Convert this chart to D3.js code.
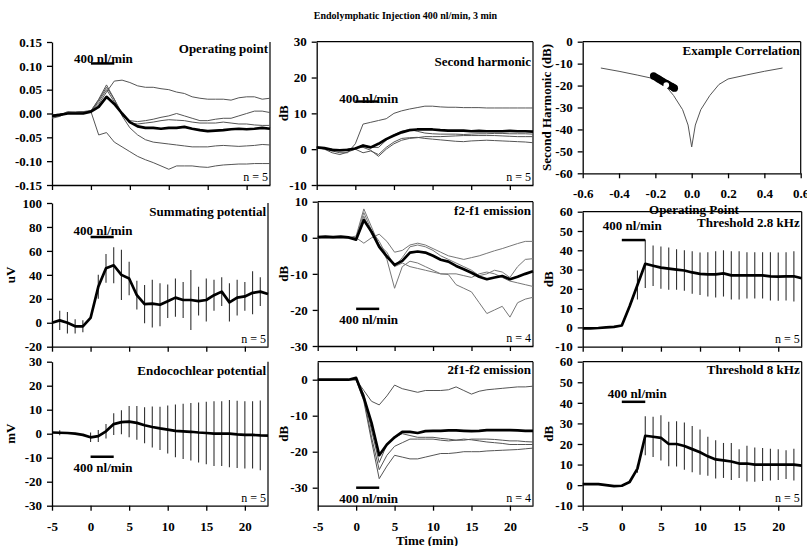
<!DOCTYPE html>
<html>
<head>
<meta charset="utf-8">
<script src="https://cdn.jsdelivr.net/npm/d3@7"></script>
<style>
    body { margin: 0; background: #fff; }
    svg { font-family: "Liberation Serif", "Times New Roman", serif; }
    .tick text { font-family: "Liberation Serif", serif; font-weight: bold; font-size: 13px; fill: #000; }
    .lbl { font-weight: bold; font-size: 13px; }
    .nlab { font-size: 12px; }
</style>
</head>
<body>
<svg width="807" height="546"></svg>
<script>
// minutes relative to start of injection
const time = [-5, -4, -3, -2, -1, 0, 1, 2, 3, 4, 5, 6, 7, 8, 9, 10, 11, 12, 13, 14, 15, 16, 17, 18, 19, 20, 21, 22, 23]

// operating point (mean + 5 animals)
const opMean = [-0.005, -0.003, 0, 0, 0, 0.004, 0.014, 0.035, 0.02, 0, -0.018, -0.027, -0.03, -0.03, -0.032, -0.03, -0.03, -0.028, -0.032, -0.035, -0.037, -0.036, -0.035, -0.033, -0.032, -0.033, -0.032, -0.03, -0.032]
const opA = [-0.008, -0.004, 0.004, 0.003, 0.004, 0.005, 0.02, 0.045, 0.068, 0.07, 0.065, 0.058, 0.055, 0.055, 0.052, 0.05, 0.045, 0.042, 0.035, 0.032, 0.03, 0.03, 0.03, 0.028, 0.033, 0.035, 0.035, 0.03, 0.032]
const opB = [-0.01, -0.006, 0.002, 0.003, 0.004, 0.004, -0.045, -0.04, -0.06, -0.07, -0.08, -0.09, -0.097, -0.103, -0.11, -0.117, -0.11, -0.11, -0.11, -0.112, -0.113, -0.11, -0.108, -0.107, -0.106, -0.106, -0.105, -0.105, -0.105]
const opC = [-0.005, -0.002, 0, 0.002, 0.003, 0.005, 0.03, 0.06, 0.03, -0.005, -0.03, -0.045, -0.055, -0.06, -0.062, -0.064, -0.066, -0.068, -0.07, -0.07, -0.07, -0.068, -0.067, -0.068, -0.069, -0.068, -0.067, -0.065, -0.066]
const opD = [-0.003, -0.001, 0.001, 0.002, 0.004, 0.006, 0.028, 0.055, 0.03, 0, -0.015, -0.017, -0.015, -0.012, -0.008, -0.005, 0, -0.005, -0.01, -0.015, -0.015, -0.012, -0.01, -0.01, -0.005, 0, 0.005, 0.005, 0.002]
const opE = [-0.004, -0.002, 0.001, 0.001, 0.002, 0.004, 0.025, 0.05, 0.025, -0.002, -0.02, -0.022, -0.02, -0.018, -0.015, -0.013, -0.014, -0.015, -0.018, -0.02, -0.02, -0.02, -0.018, -0.02, -0.022, -0.022, -0.024, -0.025, -0.025]

// second harmonic (dB)
const shMean = [0.5, 0.3, -0.2, -0.3, -0.2, 0.2, 1, 0.5, 1.5, 2.8, 3.8, 4.7, 5.3, 5.5, 5.5, 5.5, 5.3, 5.2, 5.2, 5.2, 5, 5.1, 5, 5, 5, 5.1, 5, 5, 4.9]
const sh1 = [0.3, 0.2, -0.5, -1, -1, 1.5, 7, 7.5, 8, 8.5, 10, 10.7, 11.2, 11.6, 12, 12, 11.8, 11.7, 11.7, 11.6, 11.6, 11.6, 11.5, 11.5, 11.5, 11.5, 11.5, 11.5, 11.5]
const sh2 = [0.5, 0, -1, -1.5, -0.8, 0, -1, -0.5, -1.5, 0.5, 2, 3, 3.2, 3.3, 3, 2.8, 2.6, 2.4, 2.2, 2.1, 2.3, 2.4, 2.5, 2.4, 2.3, 2.2, 2.1, 2, 1.8]
const sh3 = [0.5, 0.3, -0.3, -0.5, -0.3, 0.3, 0.5, -0.3, -2, 0, 1.5, 2.5, 3, 3.2, 3.5, 3.5, 3.5, 3.6, 3.7, 3.8, 3.8, 3.8, 3.8, 3.8, 3.7, 3.6, 3.5, 3.5, 3.5]
const sh4 = [0.5, 0.3, 0, -0.2, 0, 0.2, 1.2, 0.5, 0.5, 2.5, 4, 5, 5.5, 5, 4.5, 4.3, 4.2, 4.2, 4.2, 4.1, 4.2, 4.3, 4.3, 4.4, 4.4, 4.3, 4.3, 4.3, 4.2]

// example correlation: second harmonic vs operating point
const corrX = [-0.5, -0.4, -0.3, -0.2, -0.15, -0.1, -0.05, -0.02, 0, 0.02, 0.05, 0.1, 0.15, 0.2, 0.3, 0.4, 0.5]
const corrY = [-12, -13.5, -15.2, -17, -19.5, -24.5, -31, -38, -48, -38, -31, -24.5, -19.5, -17, -15.2, -13.5, -12]
const dotsX = [-0.21, -0.2, -0.19, -0.18, -0.17, -0.16, -0.15, -0.14, -0.13, -0.12, -0.11, -0.1, -0.095]
const dotsY = [-15.6, -16.1, -16.6, -17.1, -17.6, -18.1, -18.6, -19.0, -19.5, -20.0, -20.4, -20.9, -21.2]
const whiteDot = [-0.14, -19.8]

// summating potential (uV), mean and sd
const spMean = [0, 2, 0, -3, -3, 4, 30, 45.5, 48, 40, 37, 23, 15.5, 16, 15, 18, 21, 19, 19, 18, 19, 23, 26, 17, 21, 22, 25, 26, 24]
const spErr = [0, 8, 9, 6, 5, 0, 10, 12, 15, 21, 14, 12, 16, 20, 18, 14, 16, 15, 25, 12, 18, 13, 12, 16, 15, 12, 18, 12, 0]

// f2-f1 emission (dB)
const dpMean = [0.2, 0.3, 0.2, 0.3, 0.1, -0.5, 4.9, 1.7, -2.5, -5.2, -7.5, -6.4, -4.1, -3.8, -4.1, -5, -6.1, -6.6, -7.8, -8.7, -9.7, -10.8, -11.5, -11, -10.6, -11.5, -10.8, -10, -9.3]
const dp1 = [0, 0, 0, 0, 0, 0.5, 8, 3, -2, -6, -14, -8, -6.5, -7, -8, -9, -10, -10.2, -13, -14, -15, -18, -21, -20, -19, -22, -18, -17, -16.5]
const dp2 = [0, 0, 0, 0, 0, 0, -1.5, 0, 1, -1, -4, -3.5, -2, -1.5, -2, -3, -4, -5, -5.5, -6, -5.5, -5, -4.3, -3.6, -3, -2.3, -1.6, -1, -1]
const dp3 = [0, 0, 0, 0, 0, 0, 6, 1, -2, -4, -8, -5.5, -2.5, -2, -2.5, -3.5, -5, -6, -7, -8, -9, -10.5, -10, -9, -9.5, -11, -8, -6, -5.8]
const dp4 = [0, 0, 0, 0, 0, 0, 7, 2, -1, -5, -8, -7, -8, -8.5, -9, -9.5, -10, -10, -10, -10.5, -11, -10, -9.5, -10, -11, -12, -12.5, -13, -13.5]

// threshold 2.8 kHz (dB)
const t28Mean = [-0.5, -0.5, -0.3, 0, 0.3, 1, 11, 22, 33, 32, 31, 30.5, 30, 29.5, 28.5, 27.8, 27.5, 27.5, 28, 27, 27, 27, 27, 27, 26.5, 26.3, 26.5, 26.5, 25.5]
const t28Err = [0, 0, 0, 0, 0, 0, 0, 7.5, 12.5, 10.5, 11, 11, 10.5, 10.5, 11, 11, 11.5, 12, 12, 12.5, 12.5, 12, 12, 12, 12.5, 12.5, 12.5, 13, 0]

// endocochlear potential (mV)
const epMean = [0.5, 0.4, 0.3, 0, -0.5, -1.5, -1, 1, 4, 4.8, 5, 4.5, 3.5, 2.8, 2.2, 1.7, 1.2, 1, 0.8, 0.5, 0.3, 0, 0, 0, -0.3, -0.5, -0.5, -0.7, -0.8]
const epErr = [0, 1, 0, 0, 0, 2, 2.5, 3, 4.5, 5, 6.5, 7, 7.5, 8.5, 9, 10, 11, 11.5, 12, 12.5, 13, 13.5, 13.5, 14, 14, 14, 14, 14.5, 0]

// 2f1-f2 emission (dB)
const cdMean = [0, 0, 0, 0, 0, 0.5, -5, -12, -21, -18, -16, -14.5, -14.5, -14.8, -14.3, -14.2, -14.2, -14.1, -14.1, -14.2, -14.3, -14.2, -14, -14, -14, -14, -14.1, -14.2, -14.2]
const cd1 = [0, 0, 0, 0, 0, 0, -3, -6, -7, -4.5, -1.5, -2.5, -3, -3.5, -3, -3, -3, -2.8, -2, -3, -4, -3.2, -2.8, -2.6, -2.4, -2.2, -2, -2, -1.8]
const cd2 = [0, 0, 0, 0, 0, 0, -4, -14, -23, -18, -16, -15, -15.5, -16, -16, -16, -16.3, -16.5, -16.8, -16.8, -16.5, -16.5, -16.5, -16.6, -16.8, -17, -17, -17.2, -17.3]
const cd3 = [0, 0, 0, 0, 0, 0, -5, -16, -25, -21, -18.5, -17.5, -16.5, -16.5, -16.5, -16.5, -16.8, -17, -16.8, -16.5, -16.7, -17, -17.3, -17.5, -17.7, -18, -18, -18, -18]
const cd4 = [0, 0, 0, 0, 0, 0, -6, -17, -27.5, -24, -21, -21.5, -22, -22, -21.5, -21, -20.5, -20.5, -20.3, -20, -20, -20, -19.8, -19.7, -19.6, -19.5, -19.4, -19.2, -19]

// threshold 8 kHz (dB)
const t8Mean = [0.5, 0.5, 0.5, 0, -0.5, -0.3, 1.5, 8, 24, 23.5, 23, 20, 20, 19, 17.5, 16, 14, 12.5, 12, 11.5, 10.5, 10.5, 10, 10, 10, 10, 10, 10, 9.5]
const t8Err = [0, 0, 0, 0, 0, 0, 0, 2, 9.5, 9.8, 11, 10.8, 11, 11.5, 11.3, 11, 9.5, 9.3, 8.5, 9, 7, 8.7, 8.3, 8, 7.7, 7.5, 7, 7.7, 0]

const timeTicks = [-5, 0, 5, 10, 15, 20]

var int = d => String(d)

var panels = [
    { x0: 52, x1: 270, y0: 42, y1: 185, ydom: [-0.15, 0.15], yticks: [-0.15, -0.1, -0.05, 0, 0.05, 0.1, 0.15], yfmt: d => d.toFixed(2),
      top: false, title: "Operating point", titleDy: 10.5, n: "n = 5", bar: 0.105, barDx: -17, barDy: 0, mean: opMean, thin: [opA, opB, opC, opD, opE] },
    { x0: 316.7, x1: 533, y0: 41.7, y1: 185, ydom: [-10, 30], yticks: [-10, 0, 10, 20, 30], yfmt: int, ylabel: "dB", ylx: 283,
      top: true, title: "Second harmonic", titleDy: 24, n: "n = 5", bar: 13.3, barDx: -16, barDy: 1, mean: shMean, thin: [sh1, sh2, sh3, sh4] },
    { x0: 52, x1: 268, y0: 203, y1: 346.7, ydom: [-20, 100], yticks: [-20, 0, 20, 40, 60, 80, 100], yfmt: int, ylabel: "uV", ylx: 10,
      top: false, title: "Summating potential", titleDy: 13, n: "n = 5", bar: 71.6, barDx: -17, barDy: -2.5, mean: spMean, err: spErr },
    { x0: 317.7, x1: 533, y0: 201.7, y1: 346, ydom: [-30, 10], yticks: [-30, -20, -10, 0, 10], yfmt: int, ylabel: "dB", ylx: 283,
      top: true, title: "f2-f1 emission", titleDy: 13, n: "n = 4", bar: -19.7, barDx: -17, barDy: 15.5, mean: dpMean, thin: [dp1, dp2, dp3, dp4], thinColor: "#777" },
    { x0: 582.7, x1: 801.7, y0: 211.7, y1: 346.7, ydom: [-10, 60], yticks: [-10, 0, 10, 20, 30, 40, 50, 60], yfmt: int, ylabel: "dB", ylx: 548,
      top: true, title: "Threshold 2.8 kHz", titleDy: 15, n: "n = 5", bar: 45.3, barDx: -19, barDy: -10.5, mean: t28Mean, err: t28Err },
    { x0: 52, x1: 268, y0: 361.7, y1: 505.7, ydom: [-30, 30], yticks: [-30, -20, -10, 0, 10, 20, 30], yfmt: int, ylabel: "mV", ylx: 10,
      top: false, title: "Endocochlear potential", titleDy: 13, n: "n = 5", bar: -9.6, barDx: -17, barDy: 15.5, mean: epMean, err: epErr, xlabels: true },
    { x0: 317.7, x1: 533, y0: 361.7, y1: 505.7, ydom: [-35, 5], yticks: [-30, -20, -10, 0], yfmt: int, ylabel: "dB", ylx: 283,
      top: true, title: "2f1-f2 emission", titleDy: 12, n: "n = 4", bar: -30, barDx: -17, barDy: 15, mean: cdMean, thin: [cd1, cd2, cd3, cd4], xlabels: true },
    { x0: 582.7, x1: 801.7, y0: 361.7, y1: 505.7, ydom: [-10, 60], yticks: [-10, 0, 10, 20, 30, 40, 50, 60], yfmt: int, ylabel: "dB", ylx: 548,
      top: true, title: "Threshold 8 kHz", titleDy: 12, n: "n = 5", bar: 40.5, barDx: -14, barDy: -4, mean: t8Mean, err: t8Err, xlabels: true }
]

var svg = d3.select("svg")

svg.append("text")
    .attr("x", 405.5)
    .attr("y", 18.5)
    .attr("text-anchor", "middle")
    .attr("font-weight", "bold")
    .attr("font-size", "10px")
    .text("Endolymphatic Injection 400 nl/min, 3 min")

function frame(g, p) {
    g.append("line")
        .attr("x1", p.x1).attr("x2", p.x1)
        .attr("y1", p.y0).attr("y2", p.y1)
        .attr("stroke", "#000").attr("stroke-width", 1.2)
    if (p.top) {
        g.append("line")
            .attr("x1", p.x0).attr("x2", p.x1)
            .attr("y1", p.y0).attr("y2", p.y0)
            .attr("stroke", "#000").attr("stroke-width", 1.2)
    }
}

function axes(g, p, x, y, xticks, xfmt, xpad) {
    g.append("g")
        .attr("transform", `translate(0,${p.y1})`)
        .call(d3.axisBottom(x).tickValues(xticks).tickSize(5).tickSizeOuter(0).tickPadding(xpad).tickFormat(xfmt))
    g.append("g")
        .attr("transform", `translate(${p.x0},0)`)
        .call(d3.axisLeft(y).tickValues(p.yticks).tickSize(5).tickSizeOuter(0).tickPadding(5).tickFormat(p.yfmt))
    g.selectAll(".domain, .tick line").attr("stroke", "#000").attr("stroke-width", 1.3)
}

panels.forEach(p => {
    var x = d3.scaleLinear().domain([-5, 23]).range([p.x0, p.x1])
    var y = d3.scaleLinear().domain(p.ydom).range([p.y1, p.y0])
    var g = svg.append("g")

    frame(g, p)
    axes(g, p, x, y, timeTicks, p.xlabels ? int : "", 11.5)

    var line = d3.line().x((d, i) => x(time[i])).y(d => y(d))

    if (p.thin) {
        g.selectAll("path.thin")
            .data(p.thin)
            .join("path")
            .attr("class", "thin")
            .attr("d", line)
            .attr("fill", "none")
            .attr("stroke", p.thinColor || "#555")
            .attr("stroke-width", 1)
    }

    if (p.err) {
        var eb = time.map((t, i) => ({ t: t, m: p.mean[i], e: p.err[i] })).filter(d => d.e > 0)
        g.selectAll("line.err")
            .data(eb)
            .join("line")
            .attr("class", "err")
            .attr("x1", d => x(d.t)).attr("x2", d => x(d.t))
            .attr("y1", d => y(d.m - d.e)).attr("y2", d => y(d.m + d.e))
            .attr("stroke", "#333")
            .attr("stroke-width", 1.1)
    }

    g.append("path")
        .attr("d", line(p.mean))
        .attr("fill", "none")
        .attr("stroke", "#000")
        .attr("stroke-width", 2.7)
        .attr("stroke-linejoin", "round")

    // infusion period 0-3 min
    g.append("line")
        .attr("x1", x(0)).attr("x2", x(3))
        .attr("y1", y(p.bar)).attr("y2", y(p.bar))
        .attr("stroke", "#000").attr("stroke-width", 2.5)
    g.append("text")
        .attr("class", "lbl")
        .attr("x", x(0) + p.barDx)
        .attr("y", y(p.bar) + p.barDy)
        .text("400 nl/min")

    g.append("text")
        .attr("class", "lbl")
        .attr("x", p.x1 - 2)
        .attr("y", p.y0 + p.titleDy)
        .attr("text-anchor", "end")
        .text(p.title)

    g.append("text")
        .attr("class", "nlab")
        .attr("x", p.x1 - 2)
        .attr("y", p.y1 - 4)
        .attr("text-anchor", "end")
        .text(p.n)

    if (p.ylabel) {
        g.append("text")
            .attr("class", "lbl")
            .attr("transform", `translate(${p.ylx},${(p.y0 + p.y1) / 2}) rotate(-90)`)
            .attr("text-anchor", "middle")
            .attr("dy", "0.35em")
            .text(p.ylabel)
    }
})

// example correlation panel
var cp = { x0: 582.7, x1: 800.7, y0: 41.7, y1: 173.3, yticks: [-60, -50, -40, -30, -20, -10, 0], yfmt: int, top: true }
var cx = d3.scaleLinear().domain([-0.6, 0.6]).range([cp.x0, cp.x1])
var cy = d3.scaleLinear().domain([-60, 0]).range([cp.y1, cp.y0])
var cg = svg.append("g")
frame(cg, cp)
axes(cg, cp, cx, cy, [-0.6, -0.4, -0.2, 0, 0.2, 0.4, 0.6], d => d.toFixed(1), 10)

cg.append("path")
    .attr("d", d3.line().x((d, i) => cx(corrX[i])).y(d => cy(d))(corrY))
    .attr("fill", "none")
    .attr("stroke", "#555")
    .attr("stroke-width", 1)

cg.selectAll("circle.dot")
    .data(dotsX)
    .join("circle")
    .attr("class", "dot")
    .attr("cx", d => cx(d))
    .attr("cy", (d, i) => cy(dotsY[i]))
    .attr("r", 3.6)
    .attr("fill", "#000")

cg.append("circle")
    .attr("cx", cx(whiteDot[0]))
    .attr("cy", cy(whiteDot[1]))
    .attr("r", 2.8)
    .attr("fill", "#fff")

cg.append("text")
    .attr("class", "lbl")
    .attr("x", cp.x1 - 1)
    .attr("y", cp.y0 + 13)
    .attr("text-anchor", "end")
    .text("Example Correlation")

cg.append("text")
    .attr("class", "lbl")
    .attr("transform", `translate(546,${(cp.y0 + cp.y1) / 2}) rotate(-90)`)
    .attr("text-anchor", "middle")
    .attr("dy", "0.35em")
    .text("Second Harmonic (dB)")

cg.append("text")
    .attr("class", "lbl")
    .attr("x", 694)
    .attr("y", 214)
    .attr("text-anchor", "middle")
    .text("Operating Point")

svg.append("text")
    .attr("class", "lbl")
    .attr("x", 427)
    .attr("y", 544.5)
    .attr("text-anchor", "middle")
    .text("Time (min)")
</script>
</body>
</html>
